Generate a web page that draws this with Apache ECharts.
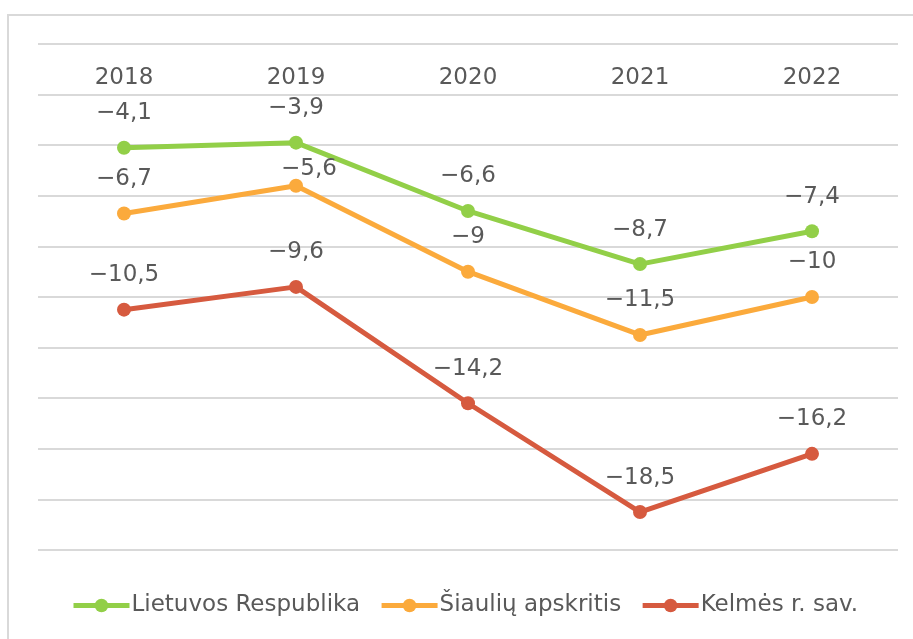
<!DOCTYPE html>
<html lang="lt">
<head>
<meta charset="UTF-8">
<title>Kelmės r. sav.</title>
<style>
  body { margin: 0; overflow: hidden; background: #fff; }
  #chart { width: 913px; height: 639px; }
</style>
</head>
<body>
<div id="chart"></div>
<script src="https://cdn.jsdelivr.net/npm/echarts@6/dist/echarts.min.js"></script>
<script>
// duomenys
var years = ['2018', '2019', '2020', '2021', '2022'];
var seriesNames = ['Lietuvos Respublika', 'Šiaulių apskritis', 'Kelmės r. sav.'];
var lietuva = [-4.1, -3.9, -6.6, -8.7, -7.4];
var siauliai = [-6.7, -5.6, -9, -11.5, -10];
var kelme = [-10.5, -9.6, -14.2, -18.5, -16.2];
var colors = ['#92cf48', '#fbaa3c', '#d65a3f'];

var font = 'DejaVu Sans';
var textColor = '#595959';
var fontSize = 23;

function fmt(p) {
    return String(p.value).replace('-', '\u2212').replace('.', ',');
}

// labelOffsets: kai kurios etiketės pastumtos, kad nepersidengtų
function makeLine(name, data, color, labelOffsets) {
    return {
        name: name,
        type: 'line',
        data: data.map(function (v, i) {
            var item = { value: v };
            if (labelOffsets && labelOffsets[i]) item.label = { offset: labelOffsets[i] };
            return item;
        }),
        symbol: 'circle',
        symbolSize: 14,
        color: color,
        lineStyle: { width: 5, color: color },
        itemStyle: { color: color },
        label: {
            show: true,
            position: 'top',
            distance: 16,
            formatter: fmt,
            color: textColor,
            fontFamily: font,
            fontSize: fontSize
        },
        animation: false
    };
}

var myChart = echarts.init(document.getElementById('chart'));
var option = {
    backgroundColor: '#fff',
    graphic: [{
        type: 'rect',
        shape: { x: 8, y: 15, width: 920, height: 650 },
        style: { fill: 'none', stroke: '#d9d9d9', lineWidth: 2 },
        silent: true
    }],
    grid: { left: 38, right: 15, top: 44, bottom: 89 },
    xAxis: {
        type: 'category',
        data: years,
        position: 'top',
        axisLine: { show: false },
        axisTick: { show: false },
        axisLabel: {
            inside: true,
            margin: 23,
            color: textColor,
            fontFamily: font,
            fontSize: fontSize
        }
    },
    yAxis: {
        type: 'value',
        min: -20,
        max: 0,
        interval: 2,
        axisLine: { show: false },
        axisTick: { show: false },
        axisLabel: { show: false },
        splitLine: { lineStyle: { color: '#d9d9d9', width: 2 } }
    },
    legend: {
        left: 66,
        top: 589,
        itemWidth: 56,
        itemHeight: 17,
        itemGap: 19,
        lineStyle: { width: 5 },
        textStyle: { color: textColor, fontFamily: font, fontSize: fontSize, padding: [0, 0, 0, -3] },
        data: seriesNames
    },
    series: [
        makeLine(seriesNames[0], lietuva, colors[0]),
        makeLine(seriesNames[1], siauliai, colors[1], [null, [13, 18]]),
        makeLine(seriesNames[2], kelme, colors[2])
    ]
};
myChart.setOption(option);
</script>
</body>
</html>
